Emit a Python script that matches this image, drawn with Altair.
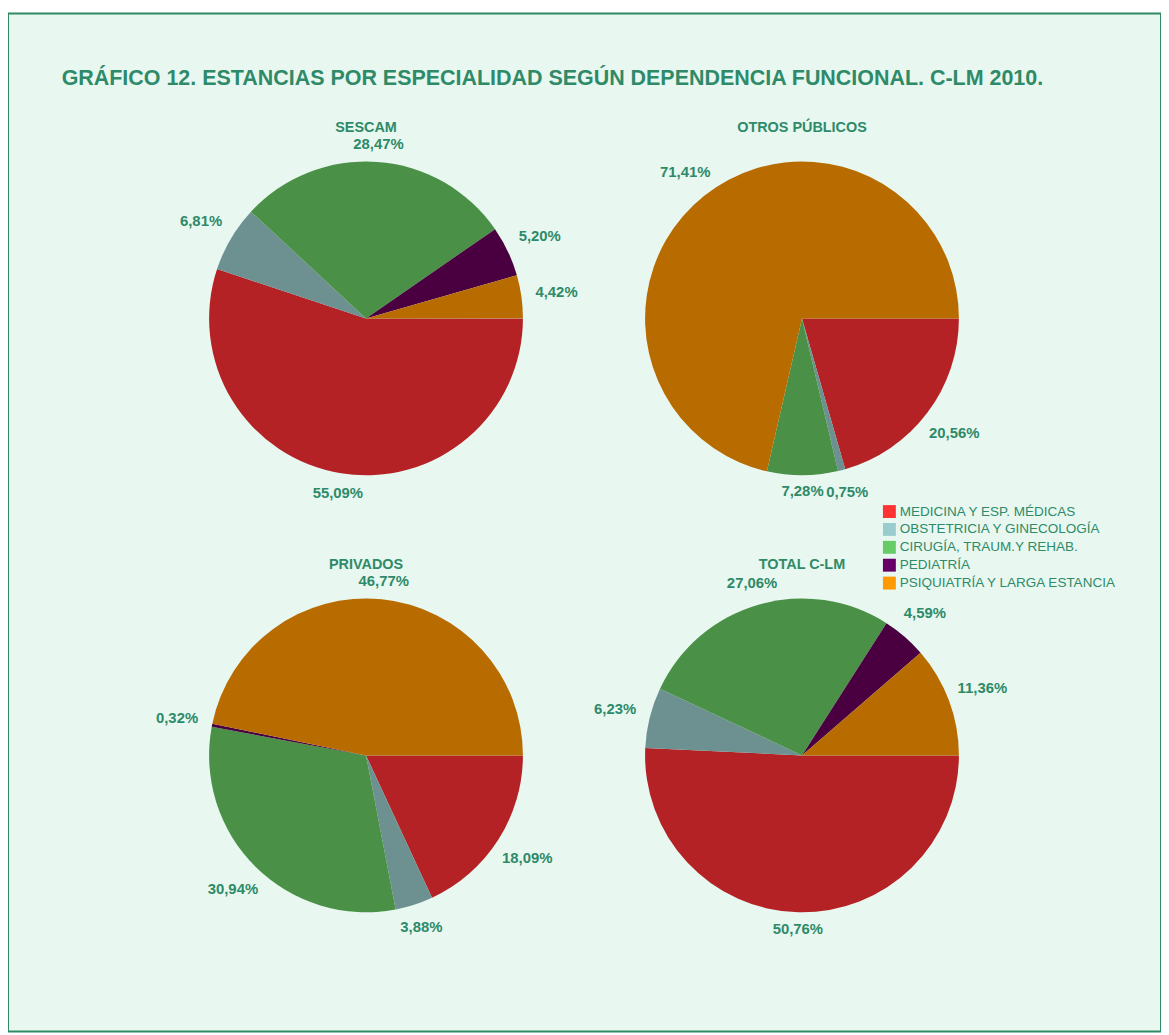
import math
import altair as alt
import pandas as pd

categories = [
    "MEDICINA Y ESP. MÉDICAS",
    "OBSTETRICIA Y GINECOLOGÍA",
    "CIRUGÍA, TRAUM.Y REHAB.",
    "PEDIATRÍA",
    "PSIQUIATRÍA Y LARGA ESTANCIA",
]
groups = ["SESCAM", "OTROS PÚBLICOS", "PRIVADOS", "TOTAL C-LM"]
sescam = [55.09, 6.81, 28.47, 5.20, 4.42]
otros_publicos = [20.56, 0.75, 7.28, 0.00, 71.41]
privados = [18.09, 3.88, 30.94, 0.32, 46.77]
total_clm = [50.76, 6.23, 27.06, 4.59, 11.36]
series = [sescam, otros_publicos, privados, total_clm]

title_text = "GRÁFICO 12. ESTANCIAS POR ESPECIALIDAD SEGÚN DEPENDENCIA FUNCIONAL. C-LM 2010."

pie_colors = ["#b52226", "#6c9190", "#4a9147", "#4a0040", "#b86c00"]
legend_colors = ["#ff3333", "#99cccc", "#66cc66", "#660066", "#ff9900"]
text_color = "#2e8a68"
bg_color = "#e8f8f0"
border_color = "#2e8a62"

rows = []
for g, vals in zip(groups, series):
    for i, (c, v) in enumerate(zip(categories, vals)):
        rows.append({
            "group": g,
            "cat": c,
            "idx": i,
            "value": v,
            "label": f"{v:.2f}".replace(".", ",") + "%",
        })
df = pd.DataFrame(rows)
legend_df = pd.DataFrame({"cat": categories, "idx": list(range(len(categories)))})

START = math.pi / 2
theta_scale = alt.Scale(domain=[0, 100], range=[START, START + 2 * math.pi])
pie_color_scale = alt.Scale(domain=categories, range=pie_colors)

# layout (pixel centres of each pie inside the plot area)
centers = {
    "SESCAM": (360.5, 307),
    "OTROS PÚBLICOS": (799.5, 307),
    "PRIVADOS": (360.5, 747),
    "TOTAL C-LM": (799.5, 747),
}
title_y = {"SESCAM": 115, "OTROS PÚBLICOS": 115, "PRIVADOS": 555, "TOTAL C-LM": 555}
R = 158

layers = []
for g in groups:
    cx, cy = centers[g]
    arc = alt.Chart(df).transform_filter(alt.datum.group == g).mark_arc(
        outerRadius=R, stroke=None
    ).encode(
        theta=alt.Theta("value:Q", stack=True, scale=theta_scale),
        order=alt.Order("idx:Q"),
        color=alt.Color("cat:N", scale=pie_color_scale, legend=None),
        x=alt.value(cx),
        y=alt.value(cy),
    )
    # labels sit just outside the slice middle; the half-extent of the label box
    # along the radial direction pushes them outward through a radius scale
    txt = alt.Chart(df).transform_filter(alt.datum.group == g).transform_window(
        cum="sum(value)", groupby=["group"], sort=[alt.SortField("idx")], frame=[None, 0]
    ).transform_calculate(
        mid="datum.cum - datum.value / 2"
    ).transform_calculate(
        ang=f"{START} + 2 * PI * datum.mid / 100"
    ).transform_calculate(
        ext="26 * abs(sin(datum.ang)) + 7 * abs(cos(datum.ang))"
    ).transform_filter(alt.datum.value > 0).mark_text(
        font="Liberation Sans", fontSize=15, fontWeight="bold",
        color=text_color, align="center", baseline="middle",
    ).encode(
        theta=alt.Theta("mid:Q", stack=None, scale=theta_scale),
        radius=alt.Radius("ext:Q", scale=alt.Scale(type="linear", domain=[0, 26], range=[167, 193])),
        text="label:N",
        x=alt.value(cx),
        y=alt.value(cy),
    )
    ttl = alt.Chart(pd.DataFrame({"group": [g]})).mark_text(
        font="Liberation Sans", fontSize=14.5, fontWeight="bold", color=text_color,
        align="center", baseline="middle",
    ).encode(text="group:N", x=alt.value(cx), y=alt.value(title_y[g]))
    layers += [arc, txt, ttl]

main_title = alt.Chart(pd.DataFrame({"t": [title_text]})).mark_text(
    font="Liberation Sans", fontSize=21.6, fontWeight="bold", color=text_color,
    align="left", baseline="middle",
).encode(text="t:N", x=alt.value(54), y=alt.value(66))

leg_y = alt.Y("cat:N", sort=categories,
              scale=alt.Scale(type="point", domain=categories, range=[501.5, 573.5], padding=0),
              axis=None)
leg_sq = alt.Chart(legend_df).mark_square(size=169, opacity=1).encode(
    x=alt.value(887.5),
    y=leg_y,
    color=alt.Color("cat:N", scale=alt.Scale(domain=categories, range=legend_colors), legend=None),
)
leg_txt = alt.Chart(legend_df).mark_text(
    font="Liberation Sans", fontSize=13.6, color=text_color, align="left", baseline="middle",
).encode(x=alt.value(898), y=leg_y, text="cat:N")

chart = alt.layer(*layers, main_title, leg_sq, leg_txt).resolve_scale(
    color="independent", theta="shared"
).properties(
    width=1161,
    height=1025,
    padding={"top": 2, "left": 0, "right": 0, "bottom": 0},
    autosize=alt.AutoSizeParams(type="none"),
    background="white",
).configure_view(
    fill=bg_color, stroke=border_color, strokeWidth=2
)

chart.save("out.html", embed_options={"renderer": "svg", "actions": False})
